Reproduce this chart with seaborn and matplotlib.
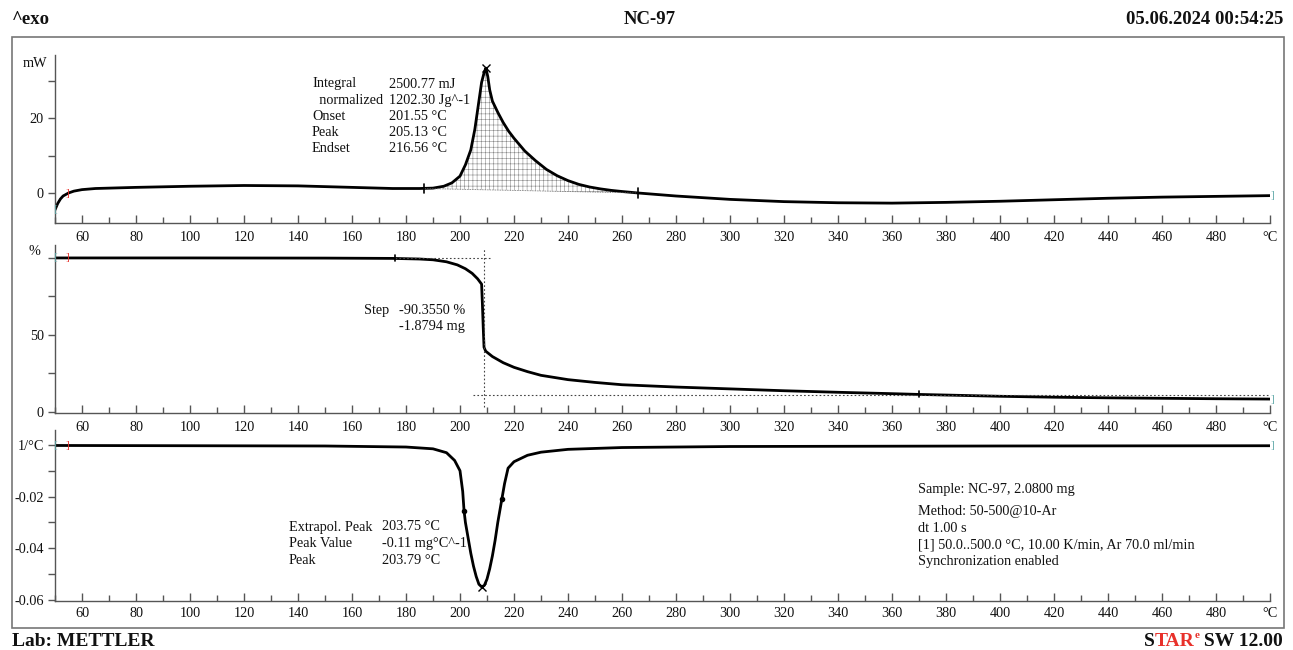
import numpy as np
import matplotlib
matplotlib.use("Agg")
import matplotlib.pyplot as plt
import seaborn as sns

# ---------------- data ----------------
# DSC heat flow (mW) vs. temperature (°C)
dsc_temp = [50, 51, 52, 53, 55, 57, 60, 65, 70, 80, 100, 120, 140, 160, 175, 185,
            190, 194, 197, 200, 202, 204, 205.5, 207, 208, 209, 209.6, 210.3, 211,
            212, 214, 216, 218, 220, 224, 228, 232, 236, 240, 244, 248, 252, 256,
            260, 266, 280, 300, 320, 340, 360, 380, 400, 420, 440, 460, 480, 500]
dsc_mw = [-4.5, -2.8, -1.6, -0.8, 0.0, 0.5, 0.9, 1.2, 1.3, 1.5, 1.8, 2.0, 1.9, 1.5, 1.2, 1.2,
          1.3, 1.8, 2.7, 4.5, 7.5, 11.5, 17.0, 24.5, 29.5, 32.3, 33.3, 31.0, 27.5,
          24.5, 21.5, 18.8, 16.5, 14.6, 11.2, 8.6, 6.3, 4.6, 3.3, 2.3, 1.6, 1.1, 0.7,
          0.4, 0.0, -0.8, -1.7, -2.3, -2.6, -2.7, -2.5, -2.2, -1.8, -1.4, -1.1, -0.9, -0.7]
peak_limits_temp = [186.5, 266.0]      # integration limits
peak_limits_mw = [1.2, 0.0]            # baseline values at the limits
dsc_peak = (209.6, 33.3)

# TGA mass (%) vs. temperature (°C)
tga_temp = [50, 100, 150, 175, 185, 190, 195, 199, 202, 204.5, 206.5, 208, 208.3, 208.6,
            208.9, 209.5, 212, 216, 220, 225, 230, 240, 250, 260, 280, 300, 320, 340,
            360, 370, 380, 400, 420, 440, 460, 480, 500]
tga_pct = [100.0, 100.0, 99.9, 99.7, 99.3, 98.8, 97.5, 95.5, 93.0, 90.0, 86.5, 83.0, 70.0, 55.0,
           42.0, 39.5, 36.0, 32.0, 29.0, 26.2, 23.8, 21.0, 19.2, 17.7, 16.2, 15.0, 13.8, 12.8,
           11.9, 11.4, 11.0, 10.2, 9.6, 9.2, 8.9, 8.6, 8.4]
step_limits_temp = [176.0, 370.0]
step_limits_pct = [99.7, 11.4]
step_mid_temp = 208.9
step_before = (176.0, 212.0, 99.9)     # start, end, level of upper tangent
step_after = (204.8, 500.0, 10.8)      # start, end, level of lower tangent

# DTG (1/°C) vs. temperature (°C)
dtg_temp = [50, 100, 150, 180, 190, 195, 198, 200, 201, 201.5, 202, 203, 204, 205, 206, 207,
            208, 209, 210, 211, 212, 213, 214, 215, 215.5, 216.5, 217.8, 220, 225, 230,
            240, 260, 300, 400, 500]
dtg_val = [-0.0002, -0.0003, -0.0004, -0.0008, -0.0015, -0.003, -0.006, -0.010, -0.018,
           -0.0255, -0.030, -0.036, -0.042, -0.047, -0.051, -0.054, -0.055, -0.0545, -0.052,
           -0.048, -0.043, -0.037, -0.030, -0.024, -0.021, -0.015, -0.009, -0.0065, -0.004,
           -0.0028, -0.0017, -0.001, -0.0006, -0.0004, -0.0003]
dtg_marks_temp = [201.5, 215.5]
dtg_marks_val = [-0.0255, -0.021]
dtg_min = (208.0, -0.055)

x_major = list(range(60, 500, 20))
x_minor = list(range(50, 501, 10))

# ---------------- style ----------------
sns.set_theme(style="ticks")
plt.rcParams["font.family"] = ["Liberation Serif", "DejaVu Serif"]
plt.rcParams["hatch.linewidth"] = 0.4

W, H = 1293, 650
fig = plt.figure(figsize=(W / 100, H / 100), dpi=100)
fig.patch.set_facecolor("white")


def rect(left, top, right, bottom):
    return [left / W, 1 - bottom / H, (right - left) / W, (bottom - top) / H]


def fpos(x, y):
    return x / W, 1 - y / H


TEXT = "#111111"
AXC = "#555555"
TEAL = "#5fa8a8"
RED = "#e8302a"
FS = 10.3

# outer frame
fig.add_artist(plt.Rectangle(fpos(12, 628), (1284 - 12) / W, (628 - 37) / H,
                             transform=fig.transFigure, fill=False, ec="#777777", lw=1.2))

ax1 = fig.add_axes(rect(55, 55, 1270, 223))
ax2 = fig.add_axes(rect(55, 245, 1270, 413))
ax3 = fig.add_axes(rect(55, 430, 1270, 601))

for ax in (ax1, ax2, ax3):
    ax.set_facecolor("none")
    ax.set_xlim(50, 500)
    for s in ("top", "right"):
        ax.spines[s].set_visible(False)
    for s in ("left", "bottom"):
        ax.spines[s].set_color(AXC)
        ax.spines[s].set_linewidth(1.0)
    ax.set_xticks(x_major + [500])
    ax.set_xticklabels([str(v) for v in x_major] + ["°C"])
    ax.set_xticks(x_minor, minor=True)
    ax.tick_params(axis="x", which="major", direction="in", length=6, width=1.0,
                   color=AXC, labelsize=FS, labelcolor=TEXT, pad=6)
    ax.tick_params(axis="x", which="minor", direction="in", length=4, width=1.0, color=AXC)
    ax.tick_params(axis="y", which="both", direction="out", length=5, width=1.0,
                   color=AXC, labelsize=FS, labelcolor=TEXT, pad=3)
    ax.set_xlabel("")
    ax.set_ylabel("")
ax3.tick_params(axis="x", which="major", pad=4)

LW = 2.0
# ---- panel 1: DSC ----
sns.lineplot(x=dsc_temp, y=dsc_mw, ax=ax1, color="black", lw=LW, sort=False, estimator=None)
ax1.set_ylim(-8, 36.8)
ax1.set_yticks([0, 20])
ax1.set_yticklabels(["0", "20"])
ax1.set_yticks([10, 30], minor=True)
t = np.array(dsc_temp, dtype=float)
y = np.array(dsc_mw, dtype=float)
base = np.interp(t, peak_limits_temp, peak_limits_mw)
inside = (t >= peak_limits_temp[0]) & (t <= peak_limits_temp[1])
ax1.fill_between(t, y, base, where=inside, interpolate=True, facecolor="none",
                 edgecolor="#8a8a8a", hatch="||||---", lw=0)
ax1.plot(peak_limits_temp, peak_limits_mw, color="#666666", lw=0.6, ls=(0, (1, 1)))
for tx, ty in zip(peak_limits_temp, peak_limits_mw):
    ax1.plot([tx, tx], [ty - 1.3, ty + 1.3], color="black", lw=1.2)
ax1.plot(*dsc_peak, marker="x", color="black", ms=6, mew=1.0)
ax1.text(-0.006, 0.95, "mW", transform=ax1.transAxes, ha="right", va="center",
         fontsize=FS, color=TEXT)

# ---- panel 2: TGA ----
sns.lineplot(x=tga_temp, y=tga_pct, ax=ax2, color="black", lw=LW, sort=False, estimator=None)
ax2.set_ylim(-0.65, 108.4)
ax2.set_yticks([0, 50])
ax2.set_yticklabels(["0", "50"])
ax2.set_yticks([25, 75, 100], minor=True)
ax2.plot([step_before[0], step_before[1]], [step_before[2], step_before[2]],
         color="#444444", lw=0.8, ls=(0, (1.5, 2)))
ax2.plot([step_after[0], step_after[1]], [step_after[2], step_after[2]],
         color="#444444", lw=0.8, ls=(0, (1.5, 2)))
ax2.plot([step_mid_temp, step_mid_temp], [3, 106.5], color="#444444", lw=0.8, ls=(0, (1.5, 2)))
for tx, ty in zip(step_limits_temp, step_limits_pct):
    ax2.plot([tx, tx], [ty - 1.5, ty + 2.5], color="black", lw=1.2)
ax2.text(-0.012, 0.96, "%", transform=ax2.transAxes, ha="right", va="center",
         fontsize=FS, color=TEXT)

# ---- panel 3: DTG ----
sns.lineplot(x=dtg_temp, y=dtg_val, ax=ax3, color="black", lw=LW, sort=False, estimator=None)
ax3.set_ylim(-0.0605, 0.0058)
ax3.set_yticks([0, -0.02, -0.04, -0.06])
ax3.set_yticklabels(["1/°C", "-0.02", "-0.04", "-0.06"])
ax3.set_yticks([-0.01, -0.03, -0.05], minor=True)
ax3.plot(dtg_marks_temp, dtg_marks_val, ls="none", marker="o", ms=3, color="black")
ax3.plot(*dtg_min, marker="x", color="black", ms=6, mew=1.0)

# start/end markers of each curve
for ax, tt, vv in ((ax1, dsc_temp, dsc_mw), (ax2, tga_temp, tga_pct), (ax3, dtg_temp, dtg_val)):
    ax.text(tt[0], vv[0], "[", color=TEAL, fontsize=8, ha="center", va="center")
    ax.text(tt[-1] + 0.8, vv[-1], "]", color=TEAL, fontsize=8, ha="center", va="center")
    ax.text(54.5, np.interp(54.5, tt, vv), "]", color=RED, fontsize=8,
            ha="center", va="center")


# ---- evaluation texts ----
def block(x_lab, x_val, y0, dy, rows):
    for i, (a, b) in enumerate(rows):
        fig.text(*fpos(x_lab, y0 + i * dy), a, fontsize=FS, color=TEXT, va="center")
        fig.text(*fpos(x_val, y0 + i * dy), b, fontsize=FS, color=TEXT, va="center")


block(312, 389, 84, 16.2, [("Integral", "2500.77 mJ"), ("  normalized", "1202.30 Jg^-1"),
                           ("Onset", "201.55 °C"), ("Peak", "205.13 °C"),
                           ("Endset", "216.56 °C")])
block(364, 399, 310, 16.5, [("Step", "-90.3550 %"), ("", "-1.8794 mg")])
block(289, 382, 527, 16.5, [("Extrapol. Peak", "203.75 °C"),
                            ("Peak Value", "-0.11 mg°C^-1"), ("Peak", "203.79 °C")])

fig.text(*fpos(918, 490), "Sample: NC-97, 2.0800 mg", fontsize=FS, color=TEXT, va="center")
for i, s in enumerate(["Method: 50-500@10-Ar", "dt 1.00 s",
                       "[1] 50.0..500.0 °C, 10.00 K/min, Ar 70.0 ml/min",
                       "Synchronization enabled"]):
    fig.text(*fpos(918, 512 + i * 16.5), s, fontsize=FS, color=TEXT, va="center")

# ---- header / footer ----
HB = dict(fontsize=13.5, fontweight="bold", color=TEXT, va="center")
FB = dict(fontsize=14, fontweight="bold", color=TEXT, va="center")
fig.text(*fpos(12, 20), "^exo", ha="left", **HB)
fig.text(*fpos(650, 20), "NC-97", ha="center", **HB)
fig.text(*fpos(1283, 20), "05.06.2024 00:54:25", ha="right", **HB)
fig.text(*fpos(12, 641), "Lab: METTLER", ha="left", **FB)

# software tag, laid out right to left
renderer = fig.canvas.get_renderer()
x_right = 1283
pieces = [(" SW 12.00", TEXT, 14), ("e", RED, 8), ("TAR", RED, 14), ("S", TEXT, 14)]
for txt, col, size in pieces:
    yy = 641 if size > 10 else 636
    tt = fig.text(*fpos(x_right, yy), txt, ha="right", va="center", fontsize=size,
                  fontweight="bold", color=col)
    bb = tt.get_window_extent(renderer)
    x_right -= bb.width

fig.savefig("out.png", dpi=100)
